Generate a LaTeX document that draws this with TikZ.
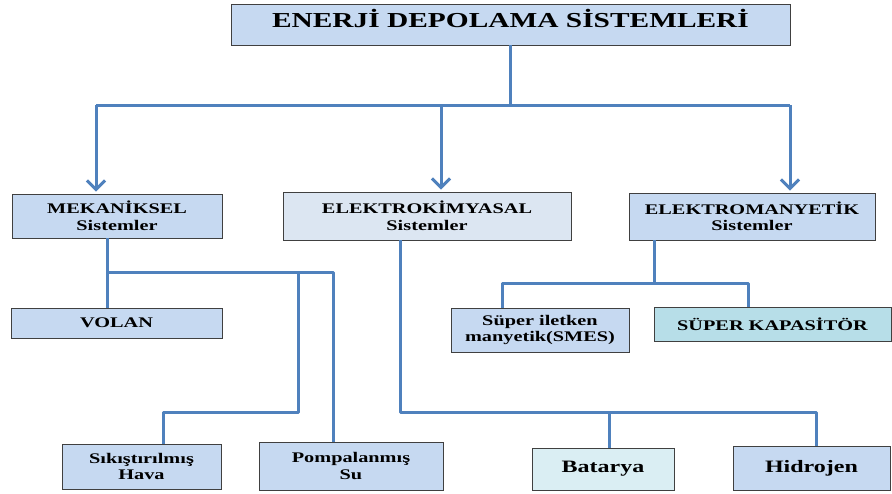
\documentclass[tikz,border=0pt]{standalone}
\usepackage{fontspec}
\setmainfont{Liberation Serif}[FakeStretch=1.38]
\usetikzlibrary{arrows.meta,shadows}
\definecolor{lineblue}{HTML}{4F81BD}
\definecolor{boxblue}{HTML}{C6D9F1}
\definecolor{boxpale}{HTML}{DCE6F2}
\definecolor{boxbat}{HTML}{DAEEF3}
\definecolor{boxcyan}{HTML}{B7DEE8}
\definecolor{boxedge}{HTML}{404040}
\begin{document}
\begin{tikzpicture}[x=1pt,y=-1pt,
  box/.style={draw=boxedge,line width=0.8pt,fill=boxblue,inner sep=0pt,align=center,
    font=\fontsize{14.7}{16.5}\selectfont\bfseries,
    drop shadow={shadow xshift=1.2pt,shadow yshift=-1.2pt,fill=black,opacity=0.25}},
  bigtext/.style={font=\fontsize{17.4}{19}\selectfont\bfseries},
  conn/.style={draw=lineblue,line width=3pt,line join=round},
  arr/.style={conn,-{Straight Barb[length=9pt,width=18pt,line width=3pt]},shorten >=2pt}]
\useasboundingbox (0,0) rectangle (892,493);
\fill[white] (0,0) rectangle (892,493);
% boxes
\node[box,minimum width=559pt,minimum height=41pt,font=\fontsize{21.3}{23}\selectfont\bfseries,text height=14pt,text depth=9pt] (top) at (510.5,24.5) {ENERJİ DEPOLAMA SİSTEMLERİ};
\node[box,minimum width=210pt,minimum height=44pt] (mek) at (117,216) {MEKANİKSEL\\Sistemler};
\node[box,fill=boxpale,minimum width=288pt,minimum height=48pt] (kim) at (427,216) {ELEKTROKİMYASAL\\Sistemler};
\node[box,minimum width=246pt,minimum height=47pt] (man) at (752,216.5) {ELEKTROMANYETİK\\Sistemler};
\node[box,minimum width=211pt,minimum height=30pt] (volan) at (116.5,323) {VOLAN};
\node[box,minimum width=159pt,minimum height=45pt] (sik) at (141.5,466.5) {Sıkıştırılmış\\Hava};
\node[box,minimum width=184pt,minimum height=48pt] (pom) at (351,466) {Pompalanmış\\Su};
\node[box,bigtext,fill=boxbat,minimum width=142pt,minimum height=42pt] (bat) at (603,469) {Batarya};
\node[box,bigtext,minimum width=157pt,minimum height=44pt] (hid) at (811.5,468) {Hidrojen};
\node[box,minimum width=178pt,minimum height=44pt] (smes) at (540,330) {Süper iletken\\manyetik(SMES)};
\node[box,fill=boxcyan,minimum width=237pt,minimum height=34pt] (kap) at (772.5,324) {SÜPER KAPASİTÖR};
% connectors from the title
\coordinate (jL) at (96,105);
\coordinate (jR) at (790,105);
\draw[conn] (top.south) -- (top.south |- jL);
\draw[conn] (jL) -- (jR);
\draw[arr] (jL) -- ([xshift=-21pt]mek.north);
\draw[arr] ([xshift=14pt]kim.north |- jL) -- ([xshift=14pt]kim.north);
\draw[arr] (jR) -- ([xshift=38pt]man.north);
% mekaniksel
\coordinate (m1) at (107,272);
\coordinate (m2) at (298,272);
\coordinate (m3) at (298,412);
\draw[conn] ([xshift=-10pt]mek.south) -- ([xshift=-9.5pt]volan.north);
\draw[conn] (m1) -| ([xshift=-18pt]pom.north);
\draw[conn] (m2) -- (m3) -| ([xshift=21.5pt]sik.north);
% elektrokimyasal
\coordinate (k1) at (400,412);
\draw[conn] ([xshift=-27pt]kim.south) -- (k1) -| ([xshift=4.5pt]hid.north);
\draw[conn] ([xshift=6pt]bat.north |- k1) -- ([xshift=6pt]bat.north);
% elektromanyetik
\coordinate (e1) at (654,283);
\draw[conn] ([xshift=-98pt]man.south) -- (e1);
\draw[conn] ([xshift=-38pt]smes.north) |- (e1) -| ([xshift=-24.5pt]kap.north);
\end{tikzpicture}
\end{document}
